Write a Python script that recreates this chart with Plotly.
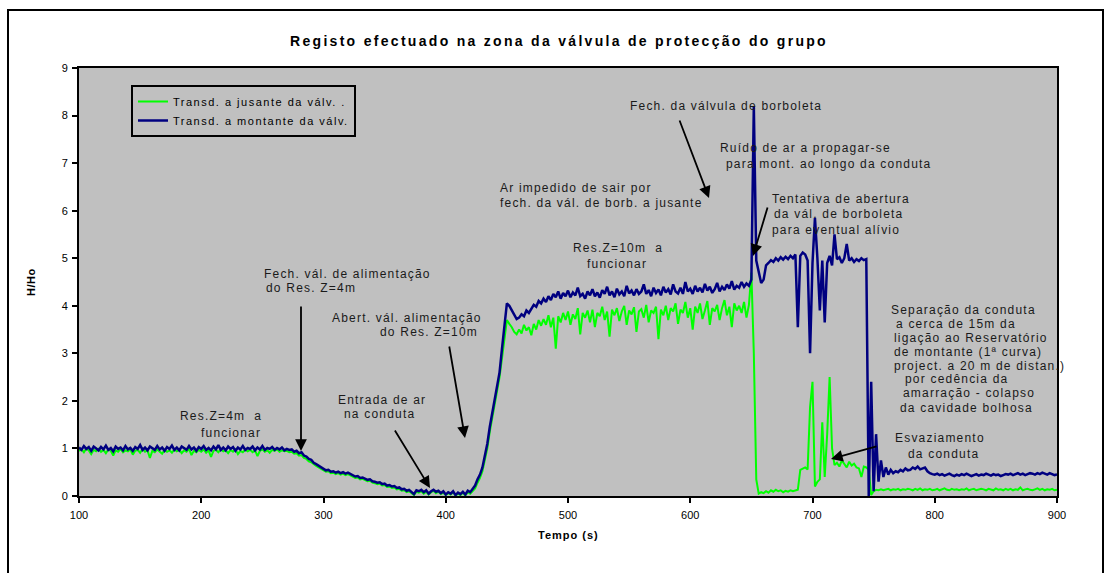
import plotly.graph_objects as go

# ---------------- data ----------------
# uniform sampling of the record, seconds
tempo = list(range(100, 901, 2))

# Transd. a montante da válv. (navy)
h_montante = [
    1.02, 0.97, 1.05, 0.99, 1.03, 0.95, 1.04, 1.00, 0.96, 1.03,   # 100
    0.98, 1.06, 0.97, 1.01, 0.94, 1.04, 0.99, 1.02, 0.96, 1.05,   # 120
    0.98, 1.01, 0.95, 1.03, 0.99, 1.07, 0.97, 1.02, 0.96, 1.04,   # 140
    1.00, 0.97, 1.05, 0.98, 1.02, 0.95, 1.03, 0.99, 1.06, 0.97,   # 160
    1.02, 0.96, 1.04, 1.00, 0.97, 1.05, 0.98, 1.02, 0.95, 1.03,   # 180
    0.99, 1.05, 0.97, 1.01, 0.96, 1.04, 0.98, 1.07, 0.97, 1.02,   # 200
    0.96, 1.04, 0.99, 1.03, 0.95, 1.02, 0.98, 1.05, 0.97, 1.01,   # 220
    0.99, 1.04, 0.96, 1.02, 0.98, 1.05, 0.97, 1.01, 0.99, 1.03,   # 240
    0.97, 1.01, 0.98, 1.02, 0.96, 0.99, 0.97, 0.98, 0.93, 0.95,   # 260
    0.90, 0.92, 0.85, 0.83, 0.78, 0.76, 0.70, 0.67, 0.64, 0.60,   # 280
    0.58, 0.54, 0.55, 0.51, 0.52, 0.49, 0.51, 0.48, 0.50, 0.47,   # 300
    0.49, 0.46, 0.44, 0.41, 0.42, 0.38, 0.39, 0.36, 0.34, 0.35,   # 320
    0.31, 0.30, 0.28, 0.29, 0.25, 0.26, 0.22, 0.23, 0.20, 0.21,   # 340
    0.17, 0.18, 0.14, 0.15, 0.11, 0.13, 0.09, 0.04, 0.12, 0.10,   # 360
    0.13, 0.08, 0.12, 0.05, 0.10, 0.13, 0.09, 0.11, 0.06, 0.10,   # 380
    0.03, 0.08, 0.05, 0.10, 0.02, 0.07, 0.04, 0.09, 0.03, 0.11,   # 400
    0.08, 0.15, 0.22, 0.35, 0.45, 0.60, 0.85, 1.10, 1.45, 1.75,   # 420
    2.00, 2.30, 2.60, 3.10, 3.55, 4.05, 4.00, 3.90, 3.80, 3.72,   # 440
    3.75, 3.82, 3.78, 3.90, 3.85, 3.95, 4.02, 3.98, 4.10, 4.05,   # 460
    4.15, 4.08, 4.20, 4.12, 4.25, 4.18, 4.30, 4.15, 4.27, 4.20,   # 480
    4.32, 4.18, 4.28, 4.22, 4.38, 4.20, 4.25, 4.15, 4.30, 4.22,   # 500
    4.35, 4.20, 4.28, 4.17, 4.33, 4.25, 4.40, 4.22, 4.30, 4.18,   # 520
    4.36, 4.24, 4.30, 4.20, 4.42, 4.26, 4.32, 4.22, 4.35, 4.25,   # 540
    4.30, 4.45, 4.25, 4.33, 4.20, 4.38, 4.27, 4.34, 4.22, 4.40,   # 560
    4.28, 4.35, 4.24, 4.45, 4.30, 4.26, 4.38, 4.25, 4.50, 4.30,   # 580
    4.36, 4.25, 4.42, 4.30, 4.38, 4.28, 4.46, 4.32, 4.40, 4.27,   # 600
    4.35, 4.48, 4.30, 4.40, 4.33, 4.45, 4.36, 4.52, 4.34, 4.42,   # 620
    4.38, 4.50, 4.40, 4.47, 4.42, 4.55, 8.20, 4.95, 4.70, 4.48,   # 640
    4.55, 4.85, 4.90, 4.96, 4.92, 5.00, 4.95, 5.02, 4.97, 5.03,   # 660
    4.98, 5.05, 5.00, 5.08, 3.55, 5.05, 5.12, 5.08, 4.95, 3.00,   # 680
    4.90, 5.85, 5.00, 3.90, 4.95, 3.65, 4.90, 5.05, 4.85, 5.50,   # 700
    4.98, 5.02, 4.90, 5.00, 5.30, 4.95, 5.00, 4.92, 4.98, 4.94,   # 720
    5.00, 4.96, 4.98, 0.00, 2.40, 0.10, 1.30, 0.30, 0.75, 0.40,   # 740
    0.60, 0.45, 0.55, 0.48, 0.52, 0.50, 0.55, 0.52, 0.58, 0.54,   # 760
    0.55, 0.60, 0.57, 0.62, 0.56, 0.58, 0.60, 0.52, 0.48, 0.46,   # 780
    0.45, 0.47, 0.44, 0.46, 0.43, 0.45, 0.47, 0.44, 0.42, 0.45,   # 800
    0.43, 0.46, 0.44, 0.47, 0.45, 0.42, 0.44, 0.46, 0.43, 0.45,   # 820
    0.44, 0.47, 0.45, 0.43, 0.46, 0.44, 0.45, 0.42, 0.44, 0.46,   # 840
    0.45, 0.47, 0.44, 0.46, 0.48, 0.45, 0.47, 0.44, 0.46, 0.48,   # 860
    0.47, 0.45, 0.48, 0.46, 0.49, 0.47, 0.45, 0.48, 0.46, 0.44,   # 880
    0.45,                                                         # 900
]

# Transd. a jusante da válv. (green)
h_jusante = [
    0.95, 0.98, 0.92, 1.00, 0.96, 0.88, 0.97, 0.94, 0.99, 0.93,   # 100
    0.97, 0.90, 0.98, 0.95, 0.85, 0.96, 0.93, 0.99, 0.92, 0.96,   # 120
    0.94, 0.98, 0.87, 0.95, 0.97, 0.91, 0.99, 0.93, 0.96, 0.80,   # 140
    0.95, 0.92, 0.98, 0.94, 0.89, 0.97, 0.93, 0.96, 0.91, 0.98,   # 160
    0.94, 0.97, 0.90, 0.96, 0.93, 0.99, 0.86, 0.95, 0.92, 0.97,   # 180
    0.93, 0.98, 0.91, 0.96, 0.82, 0.95, 0.97, 0.92, 0.98, 0.94,   # 200
    0.96, 0.90, 0.97, 0.93, 0.98, 0.88, 0.95, 0.92, 0.97, 0.94,   # 220
    0.97, 0.92, 0.96, 0.84, 0.95, 0.98, 0.93, 0.96, 0.91, 0.97,   # 240
    0.95, 0.98, 0.93, 0.96, 0.94, 0.95, 0.92, 0.93, 0.89, 0.90,   # 260
    0.85, 0.86, 0.80, 0.78, 0.73, 0.71, 0.66, 0.63, 0.60, 0.57,   # 280
    0.54, 0.51, 0.52, 0.48, 0.49, 0.46, 0.48, 0.45, 0.47, 0.44,   # 300
    0.46, 0.43, 0.41, 0.38, 0.39, 0.35, 0.36, 0.33, 0.31, 0.32,   # 320
    0.28, 0.27, 0.25, 0.26, 0.22, 0.23, 0.19, 0.20, 0.17, 0.18,   # 340
    0.14, 0.15, 0.11, 0.12, 0.08, 0.10, 0.06, 0.02, 0.09, 0.07,   # 360
    0.10, 0.05, 0.09, 0.03, 0.08, 0.11, 0.06, 0.09, 0.04, 0.07,   # 380
    0.02, 0.06, 0.03, 0.08, 0.01, 0.05, 0.02, 0.07, 0.01, 0.08,   # 400
    0.05, 0.10, 0.16, 0.28, 0.38, 0.52, 0.75, 1.00, 1.35, 1.65,   # 420
    1.90, 2.20, 2.50, 2.90, 3.35, 3.70, 3.62, 3.55, 3.45, 3.40,   # 440
    3.50, 3.42, 3.60, 3.48, 3.55, 3.38, 3.62, 3.50, 3.70, 3.58,   # 460
    3.72, 3.60, 3.80, 3.55, 3.75, 3.10, 3.78, 3.65, 3.85, 3.70,   # 480
    3.88, 3.60, 3.82, 3.72, 3.95, 3.40, 3.85, 3.75, 3.90, 3.65,   # 500
    3.92, 3.55, 3.85, 3.78, 3.98, 3.70, 3.88, 3.35, 3.92, 3.80,   # 520
    3.95, 3.68, 3.88, 4.00, 3.60, 3.90, 3.82, 3.97, 3.45, 3.88,   # 540
    3.93, 3.75, 4.02, 3.65, 3.90, 3.85, 3.98, 3.30, 3.92, 3.80,   # 560
    4.00, 3.70, 3.95, 3.88, 4.05, 3.62, 3.92, 3.85, 4.08, 3.75,   # 580
    3.95, 3.50, 3.98, 3.85, 4.05, 3.72, 3.90, 4.10, 3.60, 3.95,   # 600
    3.88, 4.02, 3.70, 3.95, 4.12, 3.80, 3.98, 3.55, 4.05, 3.90,   # 620
    4.00, 3.85, 4.08, 3.75, 4.02, 4.70, 3.00, 0.35, 0.05, 0.08,   # 640
    0.06, 0.10, 0.07, 0.12, 0.09, 0.13, 0.10, 0.12, 0.08, 0.11,   # 660
    0.09, 0.12, 0.10, 0.11, 0.13, 0.55, 0.58, 0.60, 0.56, 1.87,   # 680
    2.40, 0.20, 0.30, 0.35, 1.55, 0.40, 1.30, 2.50, 1.00, 0.65,   # 700
    0.70, 0.62, 0.75, 0.66, 0.60, 0.72, 0.64, 0.68, 0.60, 0.58,   # 720
    0.40, 0.62, 0.60, 0.55, 0.02, 0.10, 0.13, 0.12, 0.14, 0.12,   # 740
    0.13, 0.15, 0.12, 0.14, 0.13, 0.15, 0.12, 0.14, 0.13, 0.15,   # 760
    0.14, 0.12, 0.15, 0.13, 0.16, 0.12, 0.14, 0.13, 0.15, 0.12,   # 780
    0.13, 0.15, 0.12, 0.14, 0.16, 0.13, 0.12, 0.15, 0.13, 0.14,   # 800
    0.12, 0.14, 0.13, 0.16, 0.12, 0.14, 0.15, 0.12, 0.13, 0.15,   # 820
    0.14, 0.12, 0.15, 0.13, 0.12, 0.16, 0.13, 0.14, 0.12, 0.15,   # 840
    0.13, 0.15, 0.12, 0.14, 0.13, 0.18, 0.12, 0.14, 0.15, 0.13,   # 860
    0.12, 0.14, 0.16, 0.13, 0.15, 0.12, 0.14, 0.13, 0.15, 0.12,   # 880
    0.13,                                                         # 900
]

x_ticks = [100, 200, 300, 400, 500, 600, 700, 800, 900]
y_ticks = [0, 1, 2, 3, 4, 5, 6, 7, 8, 9]

titulo = "Registo efectuado na zona da válvula de protecção do grupo"
titulo_x = "Tempo (s)"
titulo_y = "H/Ho"
nome_jus = "Transd. a jusante da válv. ."
nome_mon = "Transd. a montante da válv."

# annotation text lines: (text, left px, centre px)
textos = [
    ("Fech. da válvula de borboleta", 629, 106),
    ("Ruído de ar a propagar-se", 719, 148),
    ("para mont. ao longo da conduta", 725, 164),
    ("Ar impedido de sair por", 499, 188),
    ("fech. da vál. de borb. a jusante", 499, 203),
    ("Tentativa de abertura", 771, 199),
    ("da vál. de borboleta", 773, 214),
    ("para eventual alívio", 771, 230),
    ("Res.Z=10m  a", 572, 248),
    ("funcionar", 586, 264),
    ("Fech. vál. de alimentação", 263, 274),
    ("do Res. Z=4m", 265, 288),
    ("Abert. vál. alimentação", 331, 318),
    ("do Res. Z=10m", 379, 332),
    ("Entrada de ar", 337, 400),
    ("na conduta", 343, 414),
    ("Res.Z=4m  a", 179, 416),
    ("funcionar", 200, 433),
    ("Separação da conduta", 890, 310),
    ("a cerca de 15m da", 895, 324),
    ("ligação ao Reservatório", 893, 338),
    ("de montante (1ª curva)", 893, 352),
    ("project. a 20 m de distan.)", 893, 366),
    ("por cedência da", 904, 379),
    ("amarração - colapso", 902, 393),
    ("da cavidade bolhosa", 899, 408),
    ("Esvaziamento", 894, 438),
    ("da conduta", 907, 454),
]

# arrows: (tail px, tail py, head px, head py)
setas = [
    (679, 119, 709, 198),
    (768, 206, 753, 256),
    (301, 305, 301, 451),
    (449, 345, 465, 438),
    (394, 429, 430, 488),
    (878, 446, 831, 459),
]

# ---------------- layout geometry ----------------
W, H = 1108, 573
PL, PR, PT, PB = 79, 1057, 68, 496
FONT = "Liberation Sans, Arial, sans-serif"


def fx(px):
    return (px - PL) / (PR - PL)


def fy(py):
    return (PB - py) / (PB - PT)


def spaced(s, sp):
    return f'<span style="letter-spacing:{sp}px">{s}</span>'


fig = go.Figure()
fig.add_trace(go.Scatter(x=tempo, y=h_jusante, mode="lines",
                         name=spaced(nome_jus, 1.5),
                         line=dict(color="#00FF00", width=2)))
fig.add_trace(go.Scatter(x=tempo, y=h_montante, mode="lines",
                         name=spaced(nome_mon, 1.5),
                         line=dict(color="#000080", width=2.5)))

annotations = []
for txt, lx, cy in textos:
    annotations.append(dict(
        text=spaced(txt, 1.2), x=fx(lx), y=fy(cy), xref="paper", yref="paper",
        xanchor="left", yanchor="middle", showarrow=False, borderpad=0,
        font=dict(family=FONT, size=12, color="#1a1a1a")))
for tx, ty, hx, hy in setas:
    annotations.append(dict(
        text="", x=fx(hx), y=fy(hy), xref="paper", yref="paper",
        ax=tx - hx, ay=ty - hy, axref="pixel", ayref="pixel",
        showarrow=True, arrowhead=2, arrowsize=1.3, arrowwidth=1.8,
        arrowcolor="black"))
# axis titles
annotations.append(dict(
    text=spaced(titulo_x, 1.0), x=fx(568), y=fy(535), xref="paper", yref="paper",
    xanchor="center", yanchor="middle", showarrow=False,
    font=dict(family=FONT, size=11, color="black", weight="bold")))
annotations.append(dict(
    text=spaced(titulo_y, 0.5), x=fx(31), y=fy(282), xref="paper", yref="paper",
    xanchor="center", yanchor="middle", showarrow=False, textangle=-90,
    font=dict(family=FONT, size=11, color="black", weight="bold")))

fig.update_layout(
    width=W, height=H,
    margin=dict(l=PL, r=W - PR, t=PT, b=H - PB, autoexpand=False),
    paper_bgcolor="white", plot_bgcolor="#C0C0C0",
    font=dict(family=FONT, color="black", size=11),
    title=dict(text=spaced(titulo, 2.3), x=559 / W, xanchor="center",
               y=1 - 41 / H, yanchor="middle",
               font=dict(family=FONT, size=14, color="black", weight="bold")),
    showlegend=True,
    legend=dict(x=fx(131), y=fy(111), xanchor="left", yanchor="middle",
                bgcolor="rgba(0,0,0,0)", bordercolor="black", borderwidth=2,
                font=dict(family=FONT, size=11, color="black"),
                tracegroupgap=0, itemwidth=30),
    annotations=annotations,
    shapes=[dict(type="rect", xref="paper", yref="paper",
                 x0=fx(8), x1=fx(1103), y0=fy(580), y1=fy(10),
                 line=dict(color="black", width=2), layer="above")],
)

fig.update_xaxes(range=[100, 900], tickvals=x_ticks, ticktext=[str(v) for v in x_ticks],
                 showline=True, linecolor="black", linewidth=2, mirror=True,
                 ticks="outside", ticklen=5, tickwidth=1.5, tickcolor="black",
                 showgrid=False, zeroline=False, automargin=False,
                 ticklabelstandoff=3,
                 tickfont=dict(family=FONT, size=11, color="black"))
fig.update_yaxes(range=[0, 9], tickvals=y_ticks, ticktext=[str(v) for v in y_ticks],
                 showline=True, linecolor="black", linewidth=2, mirror=True,
                 ticks="outside", ticklen=5, tickwidth=1.5, tickcolor="black",
                 showgrid=False, zeroline=False, automargin=False,
                 ticklabelstandoff=2,
                 tickfont=dict(family=FONT, size=11, color="black"))

assert len(tempo) == len(h_montante) == len(h_jusante)
fig.write_html("out.html",
               config={"displayModeBar": False},
               post_script="document.body.style.margin='0';"
                           "document.body.style.overflow='hidden';")
